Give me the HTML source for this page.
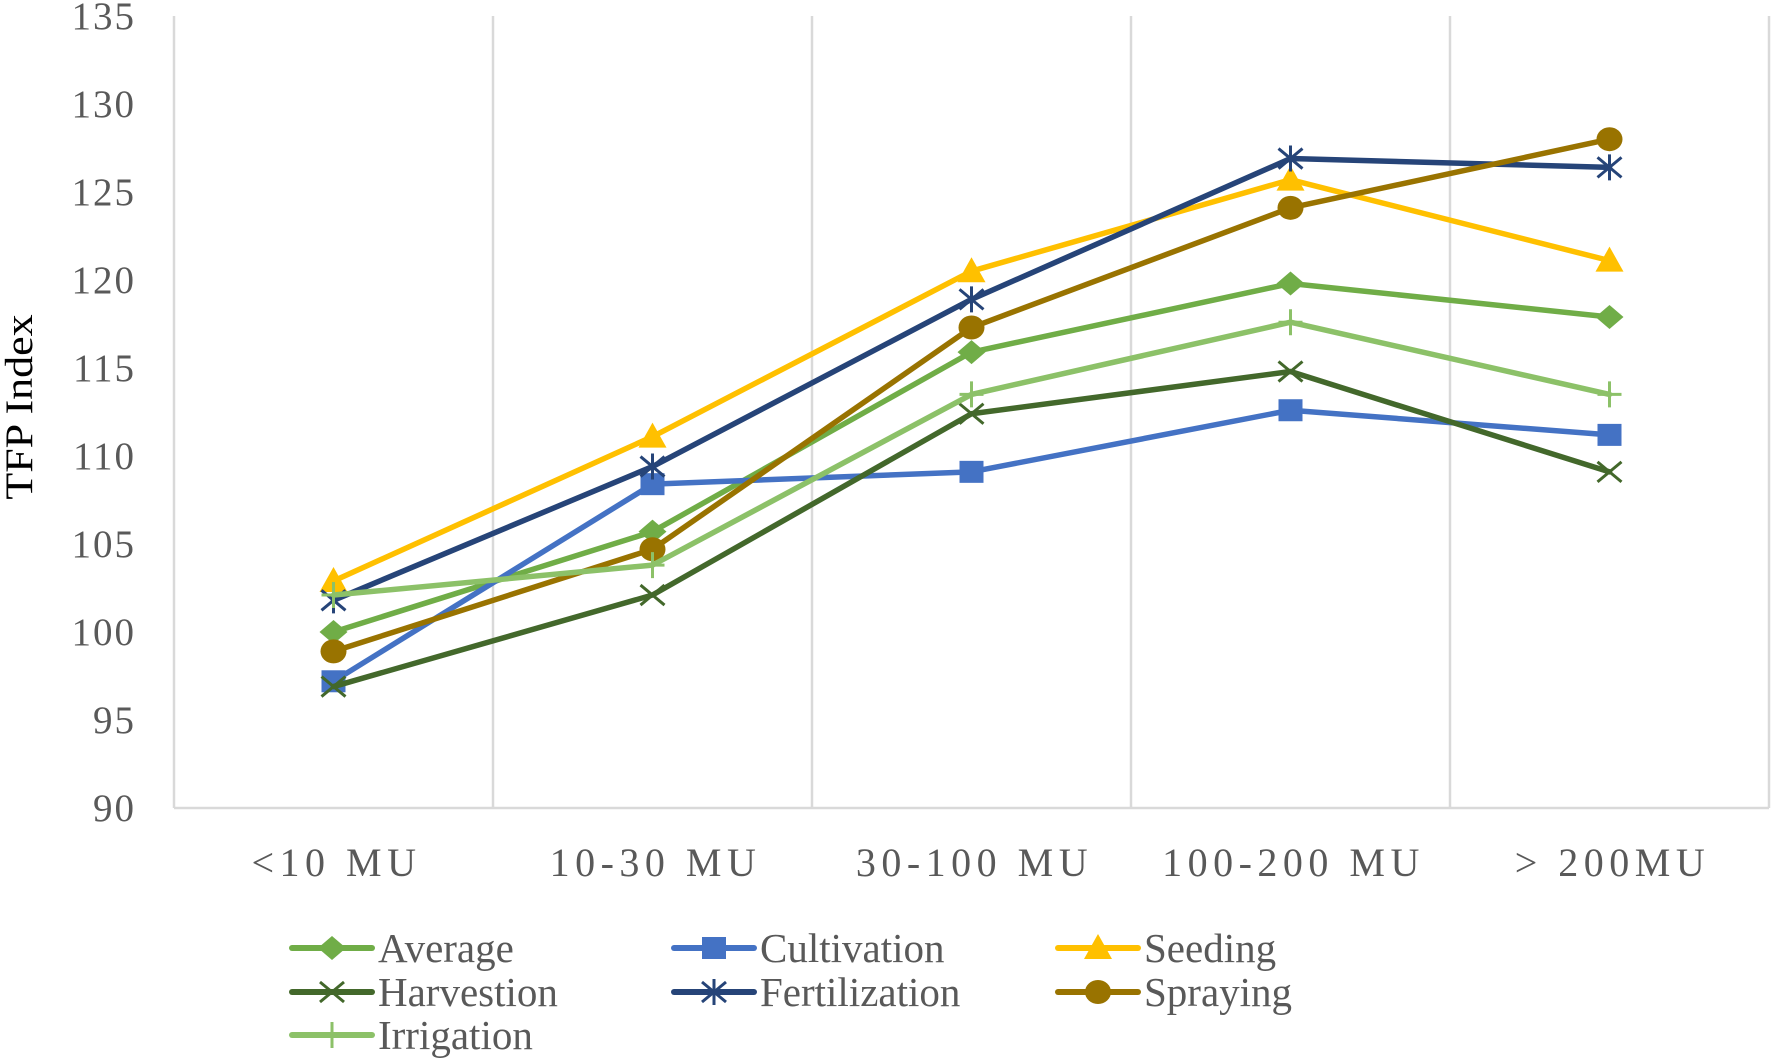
<!DOCTYPE html>
<html><head><meta charset="utf-8"><style>
html,body{margin:0;padding:0;background:#fff;}
svg{display:block;font-family:"Liberation Serif",serif;}
</style></head><body>
<svg id="chart" width="1772" height="1059" viewBox="0 0 1772 1059">
<g id="grid"></g><g id="axes"></g><g id="series"></g><g id="legend"></g>
<text transform="translate(32,407) rotate(-90) scale(1,0.9)" text-anchor="middle" font-size="44" fill="#000">TFP Index</text>
</svg>
<script>
const categories=["<10 MU","10-30 MU","30-100 MU","100-200 MU","> 200MU"];
const yTicks=[90,95,100,105,110,115,120,125,130,135];
const seriesNames=["Average","Cultivation","Seeding","Harvestion","Fertilization","Spraying","Irrigation"];
const average=[100.0,105.7,115.9,119.8,117.9];
const cultivation=[97.2,108.4,109.1,112.6,111.2];
const seeding=[102.9,111.1,120.5,125.7,121.1];
const harvestion=[96.9,102.1,112.4,114.8,109.1];
const fertilization=[101.8,109.4,118.9,126.9,126.4];
const spraying=[98.9,104.7,117.3,124.1,128.0];
const irrigation=[102.1,103.8,113.5,117.6,113.5];

const NS="http://www.w3.org/2000/svg";
const L=174,R=1769,T=16,B=808,yMin=90,yMax=135;
const bw=(R-L)/categories.length;
const x=i=>L+bw*(i+0.5);
const y=v=>B-(v-yMin)/(yMax-yMin)*(B-T);
function mk(tag,attrs,parent){const e=document.createElementNS(NS,tag);for(const k in attrs)e.setAttribute(k,attrs[k]);parent.appendChild(e);return e;}
const grid=document.getElementById('grid'),axes=document.getElementById('axes'),ser=document.getElementById('series'),leg=document.getElementById('legend');
for(let i=0;i<=categories.length;i++){
  const g=mk('line',{x1:L+bw*i,x2:L+bw*i,y1:T,y2:B,stroke:'#d9d9d9','stroke-width':2.5},grid);
  
  
}
const ax=mk('line',{x1:L,x2:R,y1:B,y2:B,stroke:'#d9d9d9','stroke-width':2.5},axes);


yTicks.forEach(v=>{
  const t=mk('text',{x:136,y:y(v)+13,'text-anchor':'end','font-size':39,fill:'#595959','letter-spacing':2},axes);
  t.textContent=v;
  
  
});
categories.forEach((c,i)=>{
  const t=mk('text',{x:x(i)+3,y:876,'text-anchor':'middle','font-size':40,fill:'#595959','letter-spacing':5.5},axes);
  t.textContent=c;
  
  
});
const colors=["#70AD47","#4472C4","#FFC000","#43682B","#264478","#997300","#8CC168"];
const markers=["diamond","square","triangle","x","star","circle","plus"];
const data=[average,cultivation,seeding,harvestion,fertilization,spraying,irrigation];
function marker(type,cx,cy,col,p,s){
  s=s||1;let e;
  if(type==='diamond')e=mk('polygon',{points:`${cx},${cy-12*s} ${cx+14*s},${cy} ${cx},${cy+12*s} ${cx-14*s},${cy}`,fill:col},p);
  else if(type==='square')e=mk('rect',{x:cx-12*s,y:cy-11*s,width:24*s,height:22*s,fill:col},p);
  else if(type==='triangle')e=mk('polygon',{points:`${cx},${cy-14*s} ${cx+14*s},${cy+11*s} ${cx-14*s},${cy+11*s}`,fill:col},p);
  else if(type==='circle')e=mk('ellipse',{cx:cx,cy:cy,rx:13*s,ry:12*s,fill:col},p);
  else if(type==='x')e=mk('path',{d:`M${cx-12*s} ${cy-10*s}L${cx+12*s} ${cy+10*s}M${cx-12*s} ${cy+10*s}L${cx+12*s} ${cy-10*s}`,stroke:col,'stroke-width':3,fill:'none'},p);
  else if(type==='star')e=mk('path',{d:`M${cx-12*s} ${cy-10*s}L${cx+12*s} ${cy+10*s}M${cx-12*s} ${cy+10*s}L${cx+12*s} ${cy-10*s}M${cx} ${cy-13*s}L${cx} ${cy+13*s}`,stroke:col,'stroke-width':3,fill:'none'},p);
  else e=mk('path',{d:`M${cx} ${cy-13*s}L${cx} ${cy+13*s}M${cx-12*s} ${cy}L${cx+12*s} ${cy}`,stroke:col,'stroke-width':3,fill:'none'},p);
  return e;
}
data.forEach((vals,si)=>{
  const g=mk('g',{},ser);
  
  
  const pl=mk('polyline',{points:vals.map((v,i)=>x(i)+','+y(v)).join(' '),fill:'none',stroke:colors[si],'stroke-width':5.5,'stroke-linejoin':'round','stroke-linecap':'round'},g);
  
  
  vals.forEach((v,i)=>{
    const m=marker(markers[si],x(i),y(v),colors[si],g);
    
    
  });
});
const legCols=[292,674,1058],legRows=[948,992,1035];
seriesNames.forEach((n,i)=>{
  const cx=legCols[i%3],cy=legRows[Math.floor(i/3)];
  const g=mk('g',{},leg);
  
  
  mk('line',{x1:cx,x2:cx+80,y1:cy,y2:cy,stroke:colors[i],'stroke-width':6,'stroke-linecap':'round'},g);
  marker(markers[i],cx+40,cy,colors[i],g);
  const t=mk('text',{x:cx+86,y:cy+14,'font-size':41,fill:'#595959'},g);
  t.textContent=n;
});
</script>
</body></html>
